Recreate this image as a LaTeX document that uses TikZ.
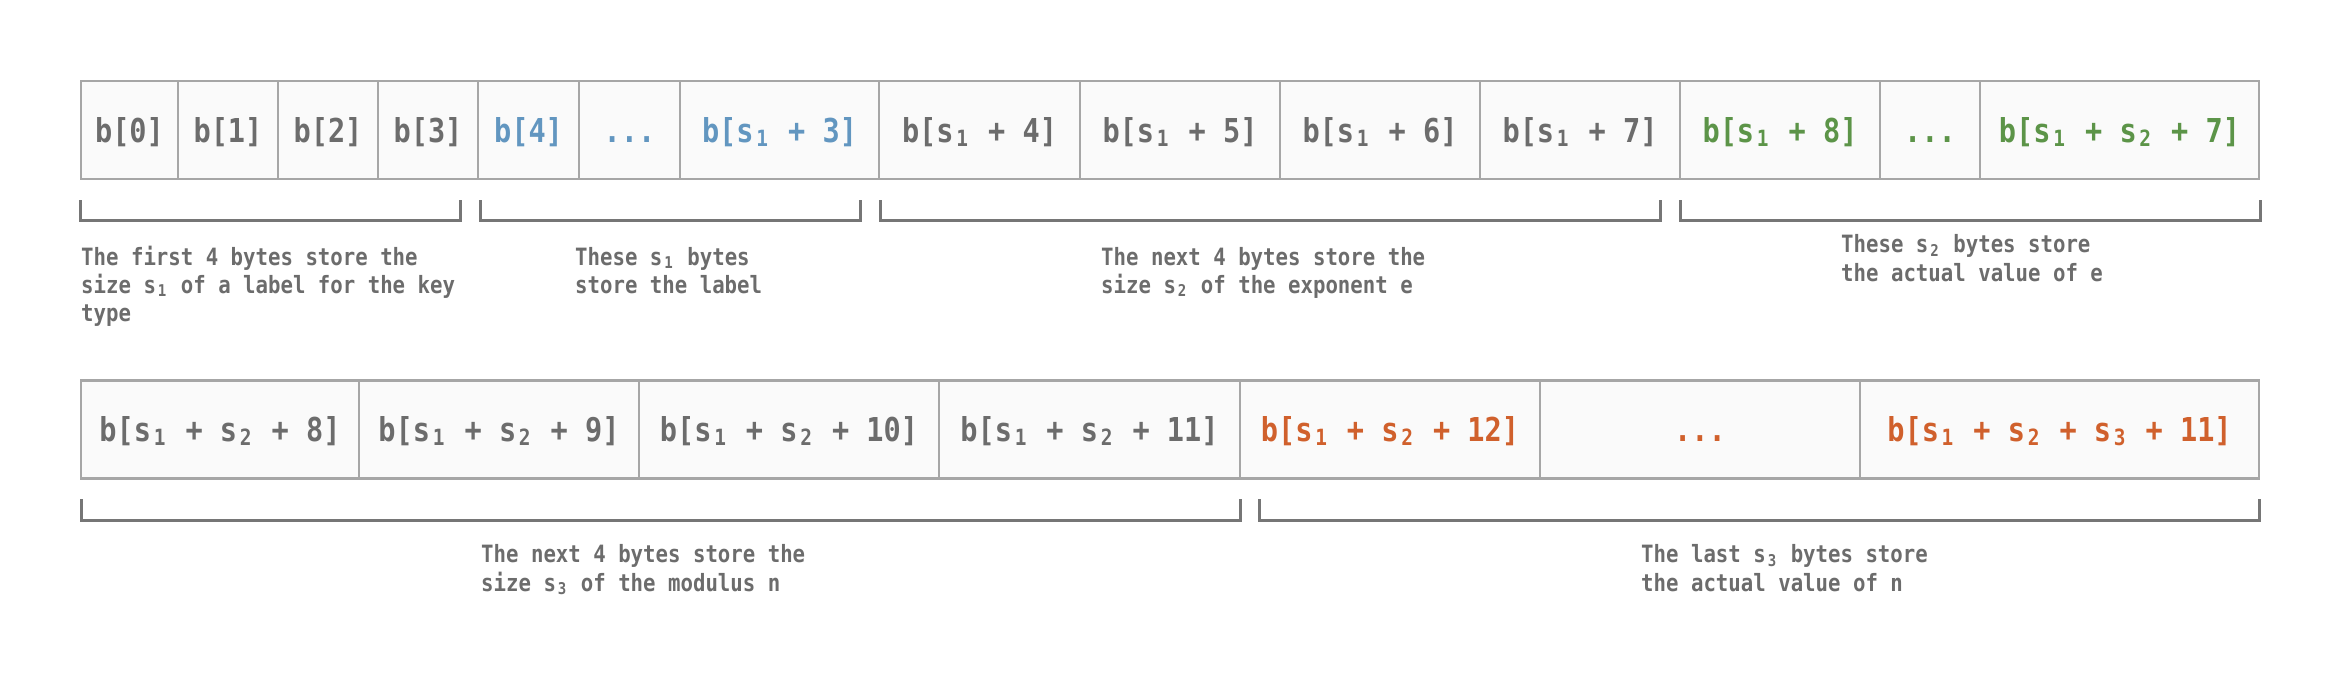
\documentclass[tikz,border=0pt]{standalone}
\usepackage{fontspec}
\usepackage{graphicx}
\setmonofont{DejaVu Sans Mono}
\definecolor{txtgray}{RGB}{108,108,108}
\definecolor{bordgray}{RGB}{166,166,166}
\definecolor{brkgray}{RGB}{118,118,118}
\definecolor{cellfill}{RGB}{250,250,250}
\definecolor{cblue}{RGB}{98,150,192}
\definecolor{cgreen}{RGB}{92,148,72}
\definecolor{corange}{RGB}{208,96,44}
\newcommand{\subd}[1]{\makebox[0.602em]{\raisebox{-0.13em}{\scalebox{0.68}{#1}}}}
\newcommand{\tall}[1]{\scalebox{1}[1.15]{#1}}
\newcommand{\captxt}[1]{\tall{\begin{tabular}{@{}l@{}}#1\end{tabular}}}
\tikzset{
  cellbox/.style={draw=bordgray, fill=cellfill, line width=2.5pt, inner sep=0pt,
    minimum height=98pt, text height=30pt, text depth=6pt, text=txtgray,
    font=\ttfamily\bfseries\fontsize{28.6}{34}\selectfont},
  capt/.style={anchor=north west, inner sep=0pt, text=txtgray,
    font=\ttfamily\bfseries\fontsize{20.7}{24.6}\selectfont},
  brk/.style={draw=brkgray, line width=3pt, line cap=butt, line join=miter}
}
\newcommand{\mkcell}[6]{% name, left, right, ycenter, color, text
  \pgfmathsetmacro{\cw}{#3-#2}\pgfmathsetmacro{\cx}{(#2+#3)/2}%
  \node[cellbox, minimum width=\cw pt, text=#5] (#1) at (\cx,#4) {\tall{#6}};}
\begin{document}
\begin{tikzpicture}[x=1pt,y=-1pt]
\useasboundingbox[fill=white] (0,0) rectangle (2340,680);
% row 1
\mkcell{a0}{81}{178}{130}{txtgray}{b[0]}
\mkcell{a1}{178}{278}{130}{txtgray}{b[1]}
\mkcell{a2}{278}{378}{130}{txtgray}{b[2]}
\mkcell{a3}{378}{478}{130}{txtgray}{b[3]}
\mkcell{a4}{478}{579}{130}{cblue}{b[4]}
\mkcell{a5}{579}{680}{130}{cblue}{...}
\mkcell{a6}{680}{879}{130}{cblue}{b[s\subd{1} + 3]}
\mkcell{a7}{879}{1080}{130}{txtgray}{b[s\subd{1} + 4]}
\mkcell{a8}{1080}{1280}{130}{txtgray}{b[s\subd{1} + 5]}
\mkcell{a9}{1280}{1480}{130}{txtgray}{b[s\subd{1} + 6]}
\mkcell{a10}{1480}{1680}{130}{txtgray}{b[s\subd{1} + 7]}
\mkcell{a11}{1680}{1880}{130}{cgreen}{b[s\subd{1} + 8]}
\mkcell{a12}{1880}{1980}{130}{cgreen}{...}
\mkcell{a13}{1980}{2259}{130}{cgreen}{b[s\subd{1} + s\subd{2} + 7]}
% row 2
\mkcell{b0}{81}{359}{429.5}{txtgray}{b[s\subd{1} + s\subd{2} + 8]}
\mkcell{b1}{359}{639}{429.5}{txtgray}{b[s\subd{1} + s\subd{2} + 9]}
\mkcell{b2}{639}{939}{429.5}{txtgray}{b[s\subd{1} + s\subd{2} + 10]}
\mkcell{b3}{939}{1240}{429.5}{txtgray}{b[s\subd{1} + s\subd{2} + 11]}
\mkcell{b4}{1240}{1540}{429.5}{corange}{b[s\subd{1} + s\subd{2} + 12]}
\mkcell{b5}{1540}{1860}{429.5}{corange}{...}
\mkcell{b6}{1860}{2259}{429.5}{corange}{b[s\subd{1} + s\subd{2} + s\subd{3} + 11]}
% brackets row 1
\draw[brk] (80,200) -- (80,220) -- (460,220) -- (460,200);
\draw[brk] (480,200) -- (480,220) -- (860,220) -- (860,200);
\draw[brk] (880,200) -- (880,220) -- (1660,220) -- (1660,200);
\draw[brk] (1680,200) -- (1680,220) -- (2260,220) -- (2260,200);
% brackets row 2
\draw[brk] (81,499) -- (81,520) -- (1240,520) -- (1240,499);
\draw[brk] (1259,499) -- (1259,520) -- (2259,520) -- (2259,499);
% captions
\node[capt] (t1) at (81,245.2) {\captxt{The first 4 bytes store the\\size s\subd{1} of a label for the key\\type}};
\node[capt] (t2) at (575,245.2) {\captxt{These s\subd{1} bytes\\store the label}};
\node[capt] (t3) at (1101,245.2) {\captxt{The next 4 bytes store the\\size s\subd{2} of the exponent e}};
\node[capt] (t4) at (1841,232.9) {\captxt{These s\subd{2} bytes store\\the actual value of e}};
\node[capt] (t5) at (481,542.9) {\captxt{The next 4 bytes store the\\size s\subd{3} of the modulus n}};
\node[capt] (t6) at (1641,542.9) {\captxt{The last s\subd{3} bytes store\\the actual value of n}};
\end{tikzpicture}
\end{document}
